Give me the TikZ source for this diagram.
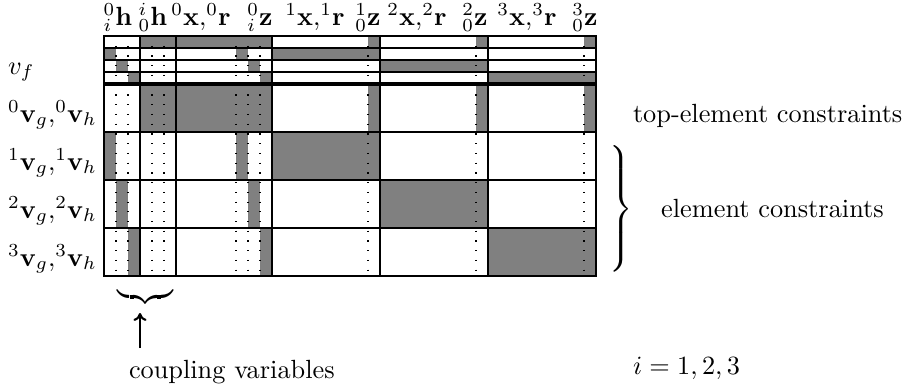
\documentclass[tikz,border=0pt]{standalone}
\usepackage{amsmath}
\usetikzlibrary{arrows.meta}
\begin{document}
\begin{tikzpicture}[x=0.38pt, y=-0.38pt,
  cellfill/.style={fill=gray},
  gridline/.style={line width=0.4pt},
  heavyline/.style={line width=1.2pt},
  dotline/.style={line width=0.45pt, dash pattern=on 0.45pt off 3.25pt},
  lbl/.style={inner sep=0pt, outer sep=0pt},
  pointer/.style={line width=0.8pt, -{Computer Modern Rightarrow[length=3pt,width=5pt]}},
]
\useasboundingbox (0,0) rectangle (907,385);

% ---- shaded blocks: top-element row (v_f strip and main row)
\foreach \ya/\yb in {36/48, 84/132} {
  \fill[cellfill] (140,\ya) rectangle (272,\yb);
  \foreach \xa in {368,476,584}
    \fill[cellfill] (\xa,\ya) rectangle (\xa+12,\yb);
}
% ---- shaded blocks: element rows k = 1,2,3
\foreach \k/\ya/\yb in {1/48/60, 1/132/180, 2/60/72, 2/180/228, 3/72/84, 3/228/276} {
  \fill[cellfill] ({104+12*(\k-1)},\ya) rectangle ({116+12*(\k-1)},\yb);
  \fill[cellfill] ({236+12*(\k-1)},\ya) rectangle ({248+12*(\k-1)},\yb);
  \fill[cellfill] ({272+108*(\k-1)},\ya) rectangle ({380+108*(\k-1)},\yb);
}

% ---- grid
\foreach \x in {116,128,152,164,236,248,260,368,476,584}
  \draw[dotline] (\x,36) -- (\x,276);
\foreach \y in {48,60,72,132,180,228}
  \draw[gridline] (104,\y) -- (596,\y);
\foreach \x in {140,176,272,380,488}
  \draw[gridline] (\x,36) -- (\x,276);
\draw[gridline] (104,36) rectangle (596,276);
\draw[heavyline] (104,84) -- (596,84);

% ---- column headings
\node[lbl, anchor=base] (c1) at (118,25) {${}^0_i\mathbf{h}$};
\node[lbl, anchor=base] (c2) at (153,25) {${}^i_0\mathbf{h}$};
\node[lbl, anchor=base] (c3) at (201,25) {${}^0\mathbf{x}{,}{}^0\mathbf{r}$};
\node[lbl, anchor=base] (c4) at (260,25) {${}^0_i\mathbf{z}$};
\node[lbl, anchor=base] (c5) at (315,25) {${}^1\mathbf{x}{,}{}^1\mathbf{r}$};
\node[lbl, anchor=base] (c6) at (368,25) {${}^1_0\mathbf{z}$};
\node[lbl, anchor=base] (c7) at (417,25) {${}^2\mathbf{x}{,}{}^2\mathbf{r}$};
\node[lbl, anchor=base] (c8) at (475,25) {${}^2_0\mathbf{z}$};
\node[lbl, anchor=base] (c9) at (527,25) {${}^3\mathbf{x}{,}{}^3\mathbf{r}$};
\node[lbl, anchor=base] (c10) at (585,25) {${}^3_0\mathbf{z}$};

% ---- row headings
\node[lbl, anchor=base west] (vf) at (8,74) {$v_f$};
\node[lbl, anchor=base west] (r0) at (8,122) {${}^0\mathbf{v}_g{,}{}^0\mathbf{v}_h$};
\node[lbl, anchor=base west] (r1) at (8,170) {${}^1\mathbf{v}_g{,}{}^1\mathbf{v}_h$};
\node[lbl, anchor=base west] (r2) at (8,218) {${}^2\mathbf{v}_g{,}{}^2\mathbf{v}_h$};
\node[lbl, anchor=base west] (r3) at (8,266) {${}^3\mathbf{v}_g{,}{}^3\mathbf{v}_h$};

% ---- annotations on the right
\node[lbl, anchor=base west] (topc) at (633,122) {top-element constraints};
\node[lbl] (rbrace) at (620,212) {$\left.\vrule height 24pt depth 24pt width 0pt\right\}$};
\node[lbl, anchor=base] (elc) at (772.5,217) {element constraints};
\node[lbl, anchor=base west] (irange) at (633,374) {$i=1,2,3$};

% ---- coupling variables marker
\node[lbl] (ubrace) at (145.5,297) {$\underbrace{\hbox to 21pt{}}$};
\coordinate (arrowtail) at (140,348);
\coordinate (arrowtip) at (140,313);
\draw[pointer] (arrowtail) -- (arrowtip);
\node[lbl, anchor=base west] (cpl) at (129,378) {coupling variables};
\end{tikzpicture}
\end{document}
